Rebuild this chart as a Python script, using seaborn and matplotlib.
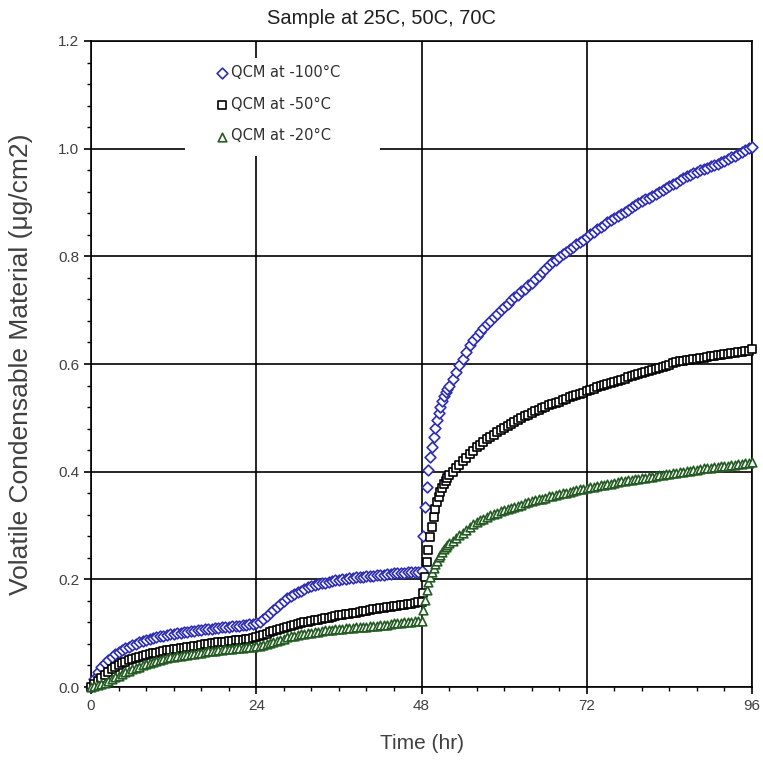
import numpy as np
import pandas as pd
import seaborn as sns
import matplotlib.pyplot as plt
from matplotlib.patches import Rectangle
from matplotlib.ticker import MultipleLocator, FormatStrFormatter

# --- sampling times (hr): 0.5 hr steps, 0.25 hr right after the 48 hr step ---
time_a = np.arange(0, 48.5, 0.5)       # 0 .. 48
time_b = np.arange(48.25, 52.25, 0.25)  # 48.25 .. 52
time_c = np.arange(52.5, 96.5, 0.5)     # 52.5 .. 96

# --- QCM at -100°C ---
qcm100_a = [0.000, 0.015, 0.028, 0.037, 0.044, 0.050, 0.056, 0.061, 0.065, 0.069,
            0.072, 0.075, 0.078, 0.080, 0.083, 0.085, 0.087, 0.089, 0.091, 0.092,
            0.094, 0.095, 0.096, 0.098, 0.099, 0.100, 0.101, 0.102, 0.103, 0.104,
            0.104, 0.105, 0.106, 0.107, 0.108, 0.108, 0.109, 0.110, 0.111, 0.111,
            0.112, 0.113, 0.114, 0.114, 0.115, 0.116, 0.117, 0.117, 0.118, 0.121,
            0.126, 0.131, 0.137, 0.143, 0.149, 0.155, 0.160, 0.165, 0.169, 0.173,
            0.176, 0.179, 0.182, 0.185, 0.187, 0.189, 0.191, 0.193, 0.194, 0.195,
            0.197, 0.198, 0.199, 0.200, 0.201, 0.202, 0.203, 0.204, 0.204, 0.205,
            0.206, 0.207, 0.207, 0.208, 0.209, 0.209, 0.210, 0.210, 0.211, 0.211,
            0.212, 0.212, 0.213, 0.213, 0.214, 0.214,
            0.215]
qcm100_b = [0.280, 0.334, 0.372, 0.403, 0.427, 0.446, 0.464, 0.481,
            0.496, 0.509, 0.521, 0.531, 0.540, 0.548, 0.554, 0.560]
qcm100_c = [0.573, 0.585, 0.598, 0.610, 0.623, 0.635, 0.644, 0.652, 0.660, 0.667,
            0.674, 0.680, 0.687, 0.693, 0.700, 0.706, 0.712, 0.718, 0.724, 0.729,
            0.735, 0.740, 0.746, 0.751, 0.757, 0.763, 0.770, 0.776, 0.783, 0.789,
            0.794, 0.799, 0.804, 0.808, 0.813, 0.817, 0.822, 0.826, 0.831, 0.836,
            0.841, 0.846, 0.851, 0.855, 0.859, 0.863, 0.867, 0.871, 0.875, 0.879,
            0.883, 0.887, 0.891, 0.895, 0.899, 0.902, 0.906, 0.909, 0.913, 0.916,
            0.920, 0.923, 0.927, 0.930, 0.934, 0.937, 0.942, 0.946, 0.949, 0.952,
            0.955, 0.957, 0.960, 0.962, 0.965, 0.967, 0.970, 0.972, 0.975, 0.978,
            0.981, 0.984, 0.987, 0.990, 0.994, 0.997, 1.001, 1.004]

# --- QCM at -50°C ---
qcm50_a = [0.000, 0.005, 0.011, 0.017, 0.023, 0.028, 0.033, 0.037, 0.041, 0.044,
           0.047, 0.050, 0.052, 0.054, 0.056, 0.058, 0.060, 0.061, 0.063, 0.064,
           0.065, 0.067, 0.068, 0.069, 0.070, 0.071, 0.072, 0.073, 0.074, 0.075,
           0.076, 0.077, 0.078, 0.079, 0.080, 0.081, 0.082, 0.083, 0.083, 0.084,
           0.085, 0.086, 0.087, 0.087, 0.088, 0.089, 0.090, 0.091, 0.092, 0.094,
           0.097, 0.099, 0.102, 0.104, 0.106, 0.108, 0.110, 0.112, 0.114, 0.116,
           0.117, 0.119, 0.120, 0.121, 0.123, 0.124, 0.125, 0.127, 0.128, 0.129,
           0.130, 0.131, 0.133, 0.134, 0.135, 0.136, 0.137, 0.138, 0.140, 0.141,
           0.142, 0.143, 0.144, 0.145, 0.146, 0.147, 0.148, 0.149, 0.150, 0.151,
           0.152, 0.153, 0.154, 0.155, 0.156, 0.157,
           0.158]
qcm50_b = [0.175, 0.204, 0.232, 0.254, 0.279, 0.297, 0.316, 0.330,
           0.343, 0.353, 0.362, 0.370, 0.377, 0.383, 0.389, 0.394]
qcm50_c = [0.400, 0.406, 0.413, 0.420, 0.426, 0.432, 0.439, 0.445, 0.450, 0.455,
           0.460, 0.464, 0.469, 0.473, 0.477, 0.481, 0.485, 0.489, 0.493, 0.496,
           0.500, 0.503, 0.506, 0.509, 0.512, 0.515, 0.518, 0.520, 0.523, 0.525,
           0.528, 0.530, 0.533, 0.535, 0.538, 0.540, 0.543, 0.545, 0.547, 0.549,
           0.552, 0.554, 0.557, 0.559, 0.561, 0.563, 0.565, 0.567, 0.569, 0.571,
           0.573, 0.575, 0.577, 0.579, 0.581, 0.583, 0.585, 0.587, 0.589, 0.591,
           0.593, 0.595, 0.597, 0.599, 0.601, 0.603, 0.605, 0.606, 0.607, 0.608,
           0.609, 0.610, 0.611, 0.612, 0.613, 0.614, 0.615, 0.616, 0.617, 0.618,
           0.619, 0.620, 0.621, 0.622, 0.623, 0.624, 0.625, 0.627]

# --- QCM at -20°C ---
qcm20_a = [0.000, 0.001, 0.003, 0.005, 0.008, 0.011, 0.014, 0.018, 0.021, 0.024,
           0.027, 0.030, 0.033, 0.035, 0.038, 0.040, 0.043, 0.045, 0.047, 0.049,
           0.050, 0.052, 0.053, 0.055, 0.056, 0.057, 0.058, 0.059, 0.060, 0.061,
           0.062, 0.063, 0.064, 0.065, 0.066, 0.067, 0.067, 0.068, 0.069, 0.070,
           0.070, 0.071, 0.072, 0.072, 0.073, 0.074, 0.074, 0.075, 0.076, 0.077,
           0.078, 0.080, 0.082, 0.084, 0.086, 0.088, 0.090, 0.092, 0.094, 0.095,
           0.097, 0.098, 0.099, 0.100, 0.101, 0.102, 0.103, 0.104, 0.105, 0.105,
           0.106, 0.107, 0.107, 0.108, 0.109, 0.109, 0.110, 0.111, 0.111, 0.112,
           0.112, 0.113, 0.114, 0.114, 0.115, 0.116, 0.116, 0.117, 0.118, 0.118,
           0.119, 0.120, 0.120, 0.121, 0.122, 0.122,
           0.123]
qcm20_b = [0.143, 0.162, 0.180, 0.195, 0.205, 0.214, 0.222, 0.229,
           0.235, 0.241, 0.246, 0.251, 0.256, 0.260, 0.264, 0.268]
qcm20_c = [0.272, 0.277, 0.282, 0.287, 0.292, 0.297, 0.302, 0.306, 0.310, 0.313,
           0.316, 0.319, 0.322, 0.324, 0.327, 0.329, 0.331, 0.333, 0.335, 0.337,
           0.339, 0.341, 0.343, 0.345, 0.347, 0.349, 0.350, 0.352, 0.354, 0.355,
           0.357, 0.358, 0.360, 0.361, 0.363, 0.364, 0.366, 0.367, 0.368, 0.370,
           0.371, 0.372, 0.373, 0.375, 0.376, 0.377, 0.378, 0.379, 0.380, 0.382,
           0.383, 0.384, 0.385, 0.386, 0.387, 0.388, 0.389, 0.390, 0.391, 0.392,
           0.393, 0.394, 0.395, 0.396, 0.397, 0.398, 0.399, 0.400, 0.401, 0.402,
           0.403, 0.404, 0.405, 0.406, 0.406, 0.407, 0.408, 0.409, 0.410, 0.411,
           0.411, 0.412, 0.413, 0.414, 0.415, 0.416, 0.417, 0.418]

series_labels = ['QCM at -100°C', 'QCM at -50°C', 'QCM at -20°C']
series_colors = ['#2E2EB0', '#000000', '#245C24']
series_markers = ['D', 's', '^']
x_ticks = [0, 24, 48, 72, 96]


def build_frame():
    t = np.concatenate([time_a, time_b, time_c])
    parts = []
    for label, a, b, c in zip(series_labels,
                              [qcm100_a, qcm50_a, qcm20_a],
                              [qcm100_b, qcm50_b, qcm20_b],
                              [qcm100_c, qcm50_c, qcm20_c]):
        v = np.concatenate([a, b, c])
        parts.append(pd.DataFrame({'Time': t, 'VCM': v, 'Series': label}))
    return pd.concat(parts, ignore_index=True)


def main():
    df = build_frame()
    sns.set_style('white')
    plt.rcParams['font.family'] = ['Liberation Sans', 'DejaVu Sans']

    fig = plt.figure(figsize=(7.63, 7.62), dpi=100)
    ax = fig.add_axes([0.1193, 0.0984, 0.8663, 0.8478])

    sizes = {'D': 30, 's': 32, '^': 38}
    for label, color, marker in zip(series_labels, series_colors, series_markers):
        sub = df[df['Series'] == label]
        sns.scatterplot(data=sub, x='Time', y='VCM', ax=ax, marker=marker,
                        s=sizes[marker], facecolor='white', edgecolor=color,
                        linewidth=1.2, label=label, clip_on=False, zorder=3)

    ax.set_xlim(0, 96)
    ax.set_ylim(0, 1.2)
    ax.xaxis.set_major_locator(plt.FixedLocator(x_ticks))
    ax.xaxis.set_minor_locator(MultipleLocator(4))
    ax.yaxis.set_major_locator(MultipleLocator(0.2))
    ax.yaxis.set_minor_locator(MultipleLocator(0.04))
    ax.yaxis.set_major_formatter(FormatStrFormatter('%.1f'))
    ax.tick_params(which='major', direction='out', length=5, width=1.2,
                   color='black', labelsize=11, labelcolor='#404040')
    ax.tick_params(which='minor', direction='out', length=3, width=1.0, color='black')
    ax.tick_params(axis='x', which='both', bottom=True)
    ax.tick_params(axis='y', which='both', left=True)

    ax.grid(True, which='major', color='black', linewidth=1.2)
    ax.set_axisbelow(True)
    for side in ['left', 'bottom', 'top', 'right']:
        ax.spines[side].set_color('black')
        ax.spines[side].set_linewidth(1.2)

    ax.set_xlabel('Time (hr)', fontsize=15, color='#404040', labelpad=15)
    ax.set_ylabel('Volatile Condensable Material (μg/cm2)', fontsize=19,
                  color='#404040', labelpad=18)
    fig.suptitle('Sample at 25C, 50C, 70C', x=0.5, y=0.988, fontsize=14.5, color='#202020')

    # white legend background that hides the grid behind the key
    ax.add_patch(Rectangle((0.142, 0.822), 0.295, 0.152, transform=ax.transAxes,
                           facecolor='white', edgecolor='none', zorder=2))

    leg = ax.legend(loc='upper left', bbox_to_anchor=(0.178, 0.972), frameon=False,
                    labelspacing=1.15, handletextpad=0.1, handlelength=1.0,
                    borderpad=0.4, borderaxespad=0.0,
                    prop={'family': ['DejaVu Sans'], 'size': 10.5})
    leg.set_zorder(5)
    for text in leg.get_texts():
        text.set_color('#303030')

    fig.savefig('out.png', dpi=100)


if __name__ == "__main__":
    main()
